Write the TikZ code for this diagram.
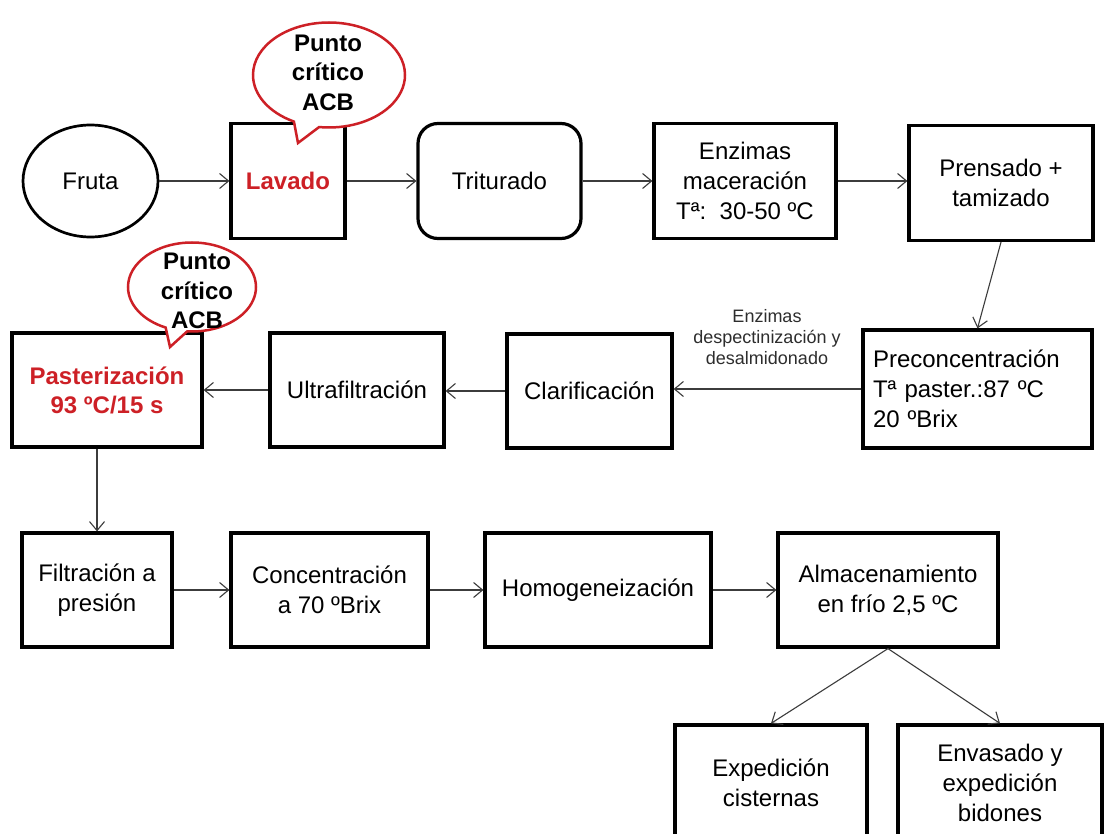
\documentclass[tikz,border=0pt]{standalone}
\usepackage{fontspec}
\setmainfont{Liberation Sans}
\usetikzlibrary{shapes.geometric,shapes.callouts,arrows.meta}
\definecolor{critred}{RGB}{205,32,38}
\definecolor{arrowgray}{RGB}{60,60,60}
\definecolor{labelgray}{RGB}{45,45,45}
\begin{document}
\begin{tikzpicture}[x=1pt,y=-1pt,
  box/.style={draw=black, line width=3.2pt, align=center, inner sep=0pt,
    font=\fontsize{24}{30}\selectfont, text=black},
  redbox/.style={box, text=critred, font=\bfseries\fontsize{24}{29}\selectfont},
  flow/.style={draw=arrowgray, line width=1.1pt,
    -{Straight Barb[length=9pt,width=15pt,line width=1.1pt]}},
  crit/.style={ellipse callout, draw=critred, line width=2.5pt, fill=white,
    inner sep=0pt, callout pointer arc=20},
  crittext/.style={align=center, inner sep=0pt, font=\bfseries\fontsize{24}{29.5}\selectfont},
  smalllabel/.style={align=center, inner sep=0pt, text=labelgray, font=\fontsize{18}{21}\selectfont}
]
\clip (0,0) rectangle (1104,834);
\fill[white] (0,0) rectangle (1104,834);

% top row
\node[box, ellipse, line width=2.7pt, minimum width=135pt, minimum height=112pt] (fruta) at (90.5,181) {Fruta};
\node[redbox, minimum width=114pt, minimum height=115pt] (lavado) at (288,181) {Lavado};
\node[box, rounded corners=20pt, minimum width=163pt, minimum height=115pt] (triturado) at (499.5,181) {Triturado};
\node[box, minimum width=182pt, minimum height=115pt] (enzimas) at (745,181) {Enzimas\\maceración\\Tª:~~30-50 ºC};
\node[box, minimum width=184pt, minimum height=115pt] (prensado) at (1001,183) {Prensado +\\tamizado};

% middle row
\node[redbox, minimum width=190pt, minimum height=114pt] (paster) at (107,390) {Pasterización\\93 ºC/15 s};
\node[box, minimum width=174pt, minimum height=114pt] (ultra) at (357,390) {Ultrafiltración};
\node[box, minimum width=165pt, minimum height=114pt] (clar) at (589.5,391) {Clarificación};
\node[box, align=left, text width=209pt, minimum width=229pt, minimum height=118pt] (precon) at (977.5,389) {Preconcentración\\Tª paster.:87 ºC\\20 ºBrix};
\node[smalllabel] (enzlabel) at (767,337) {Enzimas\\despectinización y\\desalmidonado};

% bottom row
\node[box, minimum width=150pt, minimum height=114pt] (filt) at (97,590) {Filtración a\\presión};
\node[box, minimum width=197pt, minimum height=114pt] (conc) at (329.5,590) {Concentración\\a 70 ºBrix};
\node[box, minimum width=226pt, minimum height=114pt] (homog) at (598,590) {Homogeneización};
\node[box, minimum width=220pt, minimum height=114pt] (almac) at (888,590) {Almacenamiento\\en frío 2,5 ºC};

% final row
\node[box, minimum width=192pt, minimum height=115pt] (exped) at (771,782.5) {Expedición\\cisternas};
\node[box, minimum width=204pt, minimum height=115pt] (envas) at (1000,782.5) {Envasado y\\expedición\\bidones};

% connectors
\draw[flow] (fruta.east) -- (fruta.east -| lavado.west);
\draw[flow] (lavado.east) -- (lavado.east -| triturado.west);
\draw[flow] (triturado.east) -- (triturado.east -| enzimas.west);
\draw[flow] (enzimas.east) -- (enzimas.east -| prensado.west);
\draw[flow] (prensado.south) -- (precon.north);
\draw[flow] (precon.west) -- (precon.west -| clar.east);
\draw[flow] (clar.west) -- (clar.west -| ultra.east);
\draw[flow] (ultra.west) -- (ultra.west -| paster.east);
\draw[flow] (paster.south -| filt.north) -- (filt.north);
\draw[flow] (filt.east) -- (filt.east -| conc.west);
\draw[flow] (conc.east) -- (conc.east -| homog.west);
\draw[flow] (homog.east) -- (homog.east -| almac.west);
\draw[flow] (almac.south) -- (exped.north);
\draw[flow] (almac.south) -- (envas.north);

% critical point callouts
\node[crit, minimum width=152pt, minimum height=105pt, callout absolute pointer={(298,143)}] (call1) at (329,75) {};
\node[crittext] (call1t) at (328,72.5) {Punto\\crítico\\ACB};
\node[crit, minimum width=128pt, minimum height=89pt, callout absolute pointer={(170,347)}] (call2) at (192,287) {};
\node[crittext] (call2t) at (197,291) {Punto\\crítico\\ACB};
\end{tikzpicture}
\end{document}
